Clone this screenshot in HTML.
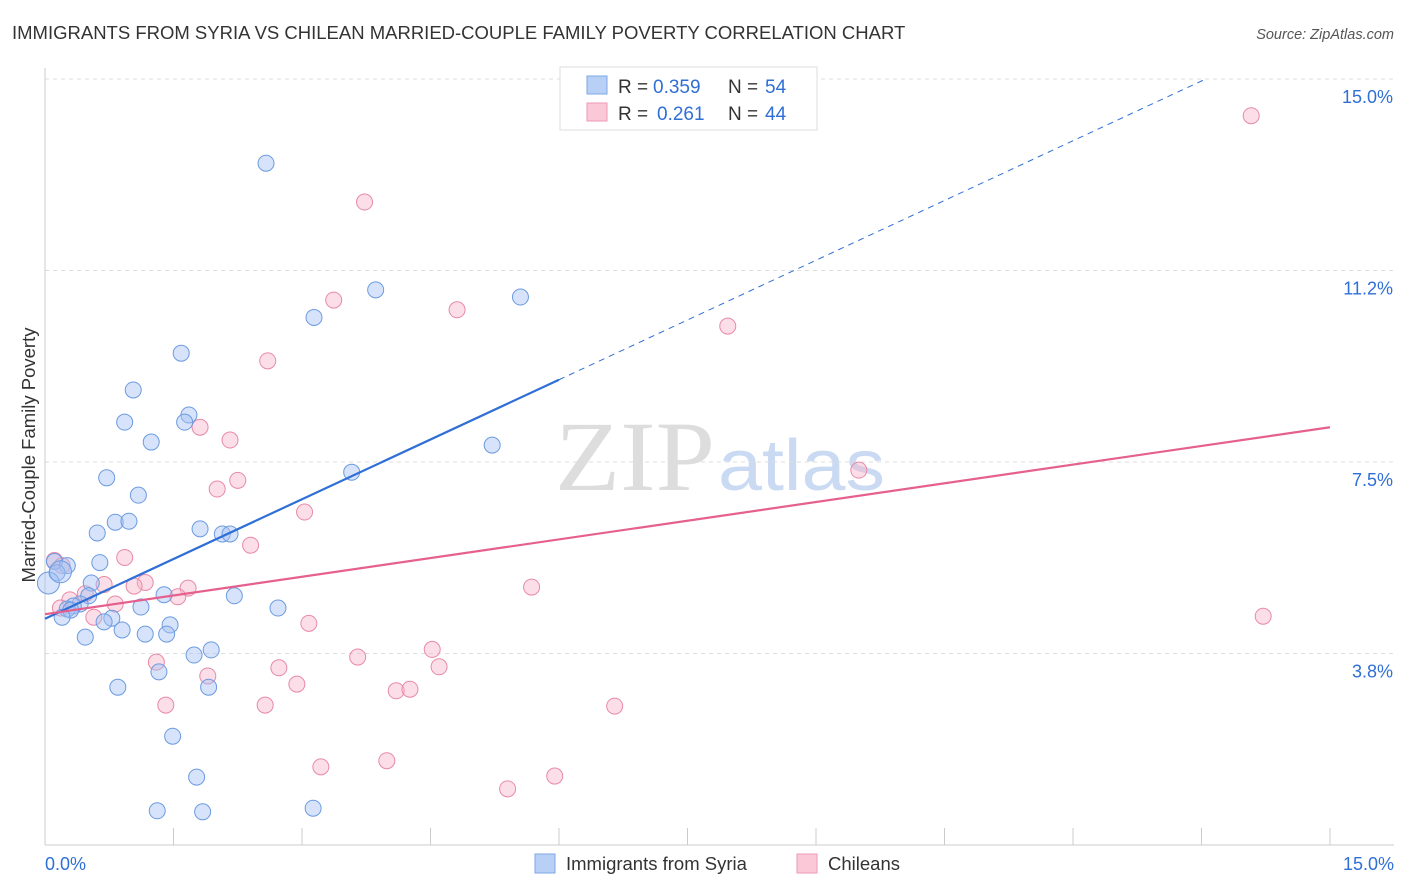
<!DOCTYPE html>
<html><head><meta charset="utf-8"><style>
body{margin:0;background:#fff;font-family:"Liberation Sans",sans-serif;}
svg{display:block}
</style></head><body>
<svg width="1406" height="892">
<text x="12" y="39" font-size="18.5" fill="#333">IMMIGRANTS FROM SYRIA VS CHILEAN MARRIED-COUPLE FAMILY POVERTY CORRELATION CHART</text>
<text x="1394" y="39" font-size="14.5" fill="#555" font-style="italic" text-anchor="end">Source: ZipAtlas.com</text>
<text x="555" y="490" font-size="100" fill="#ddd" textLength="160" lengthAdjust="spacingAndGlyphs" font-family="Liberation Serif,serif">ZIP</text>
<text x="718" y="490" font-size="72" fill="#c9daf2" textLength="167" lengthAdjust="spacingAndGlyphs">atlas</text>
<g id="grid"></g>
<g id="axes"></g>
<g id="marks"></g>
<text transform="translate(35,455) rotate(-90)" font-size="18.5" fill="#333" text-anchor="middle">Married-Couple Family Poverty</text>
<g>
<rect x="560" y="67" width="257" height="63" fill="#fff" stroke="#ddd"/>
<rect x="587" y="76" width="20" height="18" fill="#b8d0f5" stroke="#7ea7e6"/>
<rect x="587" y="103" width="20" height="18" fill="#fbc8d8" stroke="#ec9ab5"/>
<text x="618" y="93" font-size="19" fill="#333">R =</text>
<text x="653" y="93" font-size="19" fill="#2f6fd6">0.359</text>
<text x="728" y="93" font-size="19" fill="#333">N =</text>
<text x="765" y="93" font-size="19" fill="#2f6fd6">54</text>
<text x="618" y="120" font-size="19" fill="#333">R =</text>
<text x="657" y="120" font-size="19" fill="#2f6fd6">0.261</text>
<text x="728" y="120" font-size="19" fill="#333">N =</text>
<text x="765" y="120" font-size="19" fill="#2f6fd6">44</text>
</g>
<g>
<rect x="535" y="854" width="20" height="19" fill="#b8d0f5" stroke="#7ea7e6"/>
<text x="566" y="870" font-size="18.5" fill="#333">Immigrants from Syria</text>
<rect x="797" y="854" width="20" height="19" fill="#fbc8d8" stroke="#ec9ab5"/>
<text x="828" y="870" font-size="18.5" fill="#333">Chileans</text>
</g>
</svg>
<script>
const yTicks=[15.0,11.25,7.5,3.75];
const yTickLabels=["15.0%","11.2%","7.5%","3.8%"];
const xTickLabels=["0.0%","15.0%"];
const syriaX=[2.58,3.86,5.55,3.14,1.59,1.03,0.93,1.68,1.63,1.24,5.22,3.58,0.72,1.09,0.82,0.98,0.61,1.81,2.07,2.16,0.11,0.26,0.64,0.14,0.54,0.51,1.39,2.21,0.41,0.33,0.26,0.30,1.12,2.72,0.20,0.78,0.69,1.46,0.90,0.47,1.17,1.42,1.94,1.74,1.33,0.85,1.91,1.49,1.77,1.31,1.84,3.13,0.04,0.18];
const syriaY=[13.35,10.87,10.73,10.33,9.63,8.91,8.28,8.42,8.28,7.89,7.83,7.30,7.19,6.85,6.32,6.34,6.11,6.19,6.09,6.09,5.55,5.47,5.53,5.33,5.13,4.88,4.90,4.88,4.72,4.68,4.62,4.60,4.66,4.64,4.46,4.44,4.37,4.31,4.21,4.07,4.13,4.13,3.82,3.72,3.39,3.09,3.09,2.13,1.33,0.67,0.65,0.72,5.13,5.35];
const chileX=[14.08,3.73,3.37,4.81,7.97,2.60,1.81,2.16,2.25,2.01,3.03,9.50,2.40,0.93,0.11,0.20,1.17,0.69,1.04,1.67,1.55,5.68,0.47,0.29,0.82,0.18,0.57,14.22,3.08,4.52,3.65,1.30,2.73,4.60,1.90,2.94,4.10,4.26,1.41,2.57,6.65,3.99,3.22,5.95,5.40];
const chileY=[14.28,12.59,10.67,10.48,10.16,9.48,8.18,7.93,7.14,6.97,6.52,7.34,5.87,5.63,5.57,5.47,5.14,5.10,5.07,5.03,4.86,5.05,4.92,4.80,4.72,4.64,4.46,4.48,4.34,3.83,3.68,3.58,3.47,3.49,3.31,3.15,3.02,3.05,2.74,2.74,2.72,1.65,1.53,1.35,1.10];
const syriaLine=[4.43,0.78];
const chileLine=[4.52,0.244];
const X=v=>45+v/15*1285, Y=v=>845-v*51.07;
const NS="http://www.w3.org/2000/svg";
function mk(tag,attrs,parent){const e=document.createElementNS(NS,tag);for(const k in attrs)e.setAttribute(k,attrs[k]);document.getElementById(parent).appendChild(e);return e;}
yTicks.forEach((t,i)=>{
 const g=mk('line',{x1:45,x2:1394,y1:Y(t),y2:Y(t),stroke:'#ddd','stroke-dasharray':'4,4'},'grid');
 
 
 const l=mk('text',{x:1393,y:Y(t)+24,'font-size':18,fill:'#2f6fd6','text-anchor':'end'},'axes');l.textContent=yTickLabels[i];
 
 
});
const ya=mk('line',{x1:45,x2:45,y1:68,y2:845,stroke:'#ccc'},'axes');


const xa=mk('line',{x1:45,x2:1394,y1:845,y2:845,stroke:'#ccc'},'axes');


for(let i=1;i<=10;i++){const t=mk('line',{x1:X(i*1.5),x2:X(i*1.5),y1:828,y2:845,stroke:'#ccc'},'axes');
 
 }
[[0,'start',45],[15,'end',1394]].forEach((a,i)=>{const l=mk('text',{x:a[2],y:870,'font-size':18,fill:'#2f6fd6','text-anchor':a[1]},'axes');l.textContent=xTickLabels[i];
 
 });
function pts(xs,ys,fill,stroke,name){xs.forEach((x,i)=>{const big=i>=xs.length-2&&name==='syria-point';const c=mk('circle',{cx:X(x),cy:Y(ys[i]),r:big?11:8,fill:fill,'fill-opacity':0.45,stroke:stroke,'stroke-width':1},'marks');
 
 });}
pts(chileX,chileY,'#f7b6c9','#e88aa6','chilean-point');
pts(syriaX,syriaY,'#a4c2f4','#6c9be0','syria-point');
const s1=mk('line',{x1:X(0),y1:Y(syriaLine[0]),x2:X(6),y2:Y(syriaLine[0]+6*syriaLine[1]),stroke:'#2f6fd6','stroke-width':2.2},'marks');


const xe=(15-syriaLine[0])/syriaLine[1];
const s2=mk('line',{x1:X(6),y1:Y(syriaLine[0]+6*syriaLine[1]),x2:X(xe),y2:Y(15),stroke:'#2f6fd6','stroke-width':1,'stroke-dasharray':'6,5'},'marks');


const c1=mk('line',{x1:X(0),y1:Y(chileLine[0]),x2:X(15),y2:Y(chileLine[0]+15*chileLine[1]),stroke:'#e5608c','stroke-width':2.2},'marks');


</script>
</body></html>
